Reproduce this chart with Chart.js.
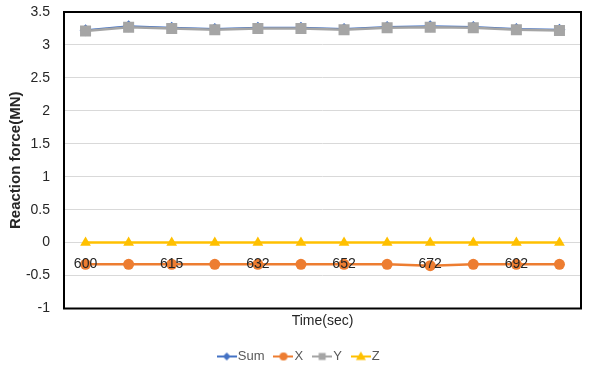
<!DOCTYPE html>
<html>
<head>
<meta charset="utf-8">
<script src="https://cdn.jsdelivr.net/npm/chart.js@4.4.1/dist/chart.umd.min.js"></script>
<style>
  html, body { margin: 0; padding: 0; background: #fff; }
</style>
</head>
<body>
<canvas id="grafico" width="596" height="368"></canvas>
<script>
// etiquetas del eje X (solo se ven una de cada dos)
const categorias = ["600", "", "615", "", "632", "", "652", "", "672", "", "692", ""];

const valoresSum = [3.222, 3.282, 3.262, 3.242, 3.262, 3.262, 3.242, 3.272, 3.282, 3.272, 3.242, 3.232];
const valoresX = [-0.33, -0.33, -0.33, -0.33, -0.33, -0.33, -0.33, -0.33, -0.35, -0.33, -0.33, -0.33];
const valoresY = [3.21, 3.27, 3.25, 3.23, 3.25, 3.25, 3.23, 3.26, 3.27, 3.26, 3.23, 3.22];
const valoresZ = [0, 0, 0, 0, 0, 0, 0, 0, 0, 0, 0, 0];

const yMin = -1;
const yMax = 3.5;
const yPaso = 0.5;

const fuente = "'Liberation Sans', Arial, sans-serif";

// simbolo de leyenda: linea con marcador
function simboloLeyenda(color, estilo, r) {
  const c = document.createElement("canvas");
  c.width = 20;
  c.height = 14;
  const ctx = c.getContext("2d");
  ctx.strokeStyle = color;
  ctx.lineWidth = 2;
  ctx.beginPath();
  ctx.moveTo(0, 7);
  ctx.lineTo(20, 7);
  ctx.stroke();
  ctx.fillStyle = color;
  ctx.beginPath();
  if (estilo === "circle") {
    ctx.arc(10, 7, r, 0, Math.PI * 2);
  } else if (estilo === "rect") {
    ctx.rect(10 - r, 7 - r, 2 * r, 2 * r);
  } else if (estilo === "rectRot") {
    ctx.moveTo(10, 7 - r); ctx.lineTo(10 + r, 7); ctx.lineTo(10, 7 + r); ctx.lineTo(10 - r, 7);
  } else {
    ctx.moveTo(10, 7 - r); ctx.lineTo(10 + r, 7 + r * 0.7); ctx.lineTo(10 - r, 7 + r * 0.7);
  }
  ctx.closePath();
  ctx.fill();
  return c;
}

const simbolos = [
  simboloLeyenda("#4472C4", "rectRot", 4),
  simboloLeyenda("#ED7D31", "circle", 4),
  simboloLeyenda("#A5A5A5", "rect", 3.5),
  simboloLeyenda("#FFC000", "triangle", 5)
];

// marco negro alrededor del area de trazado
const marco = {
  id: "marco",
  beforeDatasetsDraw(chart) {
    const a = chart.chartArea;
    const ctx = chart.ctx;
    ctx.save();
    ctx.strokeStyle = "#000";
    ctx.lineWidth = 2;
    ctx.strokeRect(a.left, a.top, a.right - a.left, a.bottom - a.top);
    ctx.restore();
  }
};

const canvas = document.getElementById("grafico");

new Chart(canvas, {
  type: "line",
  data: {
    labels: categorias,
    datasets: [
      {
        label: "Sum", data: valoresSum, order: 4,
        borderColor: "#4472C4", backgroundColor: "#4472C4", borderWidth: 2,
        pointStyle: "rectRot", pointRadius: 6, pointBorderWidth: 0
      },
      {
        label: "X", data: valoresX, order: 3,
        borderColor: "#ED7D31", backgroundColor: "#ED7D31", borderWidth: 2.5,
        pointStyle: "circle", pointRadius: 5.5, pointBorderWidth: 0
      },
      {
        label: "Y", data: valoresY, order: 2,
        borderColor: "#A5A5A5", backgroundColor: "#A5A5A5", borderWidth: 2.5,
        pointStyle: "rect", pointRadius: 7.8, pointBorderWidth: 0
      },
      {
        label: "Z", data: valoresZ, order: 1,
        borderColor: "#FFC000", backgroundColor: "#FFC000", borderWidth: 2.5,
        pointStyle: "triangle", pointRadius: 6.2, pointBorderWidth: 0
      }
    ]
  },
  options: {
    responsive: false,
    animation: false,
    layout: { padding: { top: 12, right: 0, left: 6, bottom: -5 } },
    plugins: {
      tooltip: { enabled: false },
      legend: {
        position: "bottom",
        labels: {
          usePointStyle: true,
          pointStyleWidth: 9,
          padding: 14.5,
          color: "#595959",
          font: { family: fuente, size: 13 },
          generateLabels: chart => chart.data.datasets.map((ds, i) => ({
            text: ds.label,
            fillStyle: ds.borderColor,
            strokeStyle: ds.borderColor,
            lineWidth: 0,
            pointStyle: simbolos[i],
            fontColor: "#595959",
            hidden: false,
            datasetIndex: i
          }))
        }
      }
    },
    scales: {
      x: {
        type: "category",
        offset: true,
        grid: { display: false },
        border: { display: false },
        ticks: { display: false },
        title: {
          display: true,
          text: "Time(sec)",
          color: "#262626",
          font: { family: fuente, size: 14 },
          padding: { top: 4, bottom: 5.6 }
        },
        afterFit: scale => { scale.height = 27; }
      },
      xEtiquetas: {
        type: "category",
        labels: categorias,
        position: { y: 0 },
        offset: true,
        grid: { display: false, drawTicks: false },
        border: { display: false },
        ticks: {
          z: 1,
          autoSkip: false,
          maxRotation: 0,
          padding: 13,
          color: "#262626",
          font: { family: fuente, size: 14 }
        }
      },
      y: {
        min: yMin,
        max: yMax,
        grid: { color: "#D9D9D9", lineWidth: 1, drawTicks: false },
        border: { display: false },
        ticks: {
          stepSize: yPaso,
          padding: 14,
          color: "#262626",
          font: { family: fuente, size: 14 },
          callback: v => String(v)
        },
        title: {
          display: true,
          text: "Reaction force(MN)",
          color: "#262626",
          font: { family: fuente, size: 15, weight: "bold" },
          padding: { top: 1, bottom: 0 }
        },
        afterFit: scale => {
          scale.width = 58;
          scale.paddingTop = 0;
          scale.paddingBottom = 0;
        }
      },
      // eje derecho vacio, solo reserva el margen
      margenDerecho: {
        type: "linear",
        position: "right",
        grid: { display: false },
        border: { display: false },
        ticks: { display: false },
        afterFit: scale => {
          scale.width = 15;
          scale.paddingTop = 0;
          scale.paddingBottom = 0;
        }
      }
    }
  },
  plugins: [marco]
});
</script>
</body>
</html>
